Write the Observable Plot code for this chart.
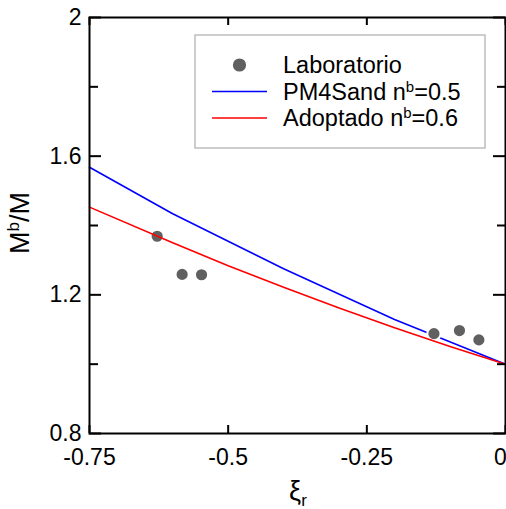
<!DOCTYPE html>
<html>
<head>
<meta charset="utf-8">
<script src="https://cdn.jsdelivr.net/npm/d3@7"></script>
<script src="https://cdn.jsdelivr.net/npm/@observablehq/plot@0.6"></script>
<style>
  html, body { margin: 0; padding: 0; background: white; }
  svg text { font-family: "Liberation Sans", Arial, sans-serif; }
</style>
</head>
<body>
<div id="chart"></div>
<script>
// Tick values
const xTicks = [-0.75, -0.5, -0.25, 0];
const yTicks = [0.8, 1.2, 1.6, 2];
const yMinor = [1.0, 1.4, 1.8];

// Laboratorio points
const labX = [-0.628, -0.583, -0.548, -0.129, -0.083, -0.048];
const labY = [1.369, 1.259, 1.258, 1.088, 1.097, 1.070];

// PM4Sand n^b=0.5 (blue)
const pmX = [-0.75, -0.6, -0.4, -0.2, 0];
const pmY = [1.568, 1.434, 1.275, 1.129, 1.0];

// Adoptado n^b=0.6 (red)
const adX = [-0.75, -0.6, -0.5, -0.4, -0.3, -0.2, -0.1, 0];
const adY = [1.453, 1.350, 1.284, 1.222, 1.162, 1.105, 1.051, 1.0];

const lab = labX.map((x, i) => ({x, y: labY[i]}));
const pm = pmX.map((x, i) => ({x, y: pmY[i]}));
const ad = adX.map((x, i) => ({x, y: adY[i]}));

const W = 506, H = 509;
const mL = 89, mR = 1, mT = 17, mB = 76;
const fw = W - mL - mR, fh = H - mT - mB;

const svg = Plot.plot({
  width: W, height: H,
  marginLeft: mL, marginRight: mR, marginTop: mT, marginBottom: mB,
  x: {domain: [-0.75, 0]},
  y: {domain: [0.8, 2]},
  style: {fontFamily: "Liberation Sans, Arial, sans-serif", fontSize: "23px", color: "black", background: "white"},
  marks: [
    Plot.line(pm, {x: "x", y: "y", stroke: "#0000ff", strokeWidth: 1.6}),
    Plot.dot(lab, {x: "x", y: "y", r: 6.6, fill: "#606060", stroke: "white", strokeWidth: 2}),
    Plot.line(ad, {x: "x", y: "y", stroke: "#ff0000", strokeWidth: 1.6}),
    // inward ticks
    Plot.tickX(xTicks, {x: d => d, insetTop: fh - 8, stroke: "black", strokeWidth: 2}),
    Plot.tickX(xTicks, {x: d => d, insetBottom: fh - 8, stroke: "black", strokeWidth: 2}),
    Plot.tickY(yTicks, {y: d => d, insetRight: fw - 12, stroke: "black", strokeWidth: 2}),
    Plot.tickY(yMinor, {y: d => d, insetRight: fw - 9, stroke: "black", strokeWidth: 2}),
    Plot.tickY(yTicks, {y: d => d, insetLeft: fw - 12, stroke: "black", strokeWidth: 2}),
    Plot.tickY(yMinor, {y: d => d, insetLeft: fw - 8, stroke: "black", strokeWidth: 2}),
    Plot.frame({stroke: "black", strokeWidth: 2}),
    Plot.axisX({ticks: xTicks.slice(0, -1), tickSize: 0, tickPadding: 15, tickFormat: d => String(d), label: null, fontSize: 23}),
    Plot.axisX({ticks: xTicks.slice(-1), tickSize: 0, tickPadding: 15, tickFormat: d => String(d), label: null, fontSize: 23, dx: -5}),
    Plot.axisY({ticks: yTicks, tickSize: 0, tickPadding: 8, tickFormat: d => String(d), label: null, fontSize: 23})
  ]
});

const s = d3.select(svg);
const ff = "Liberation Sans, Arial, sans-serif";

// Y axis title M^b/M
const yt = s.append("text")
  .attr("transform", "translate(29,223) rotate(-90)")
  .attr("text-anchor", "middle")
  .attr("font-family", ff).attr("font-size", 27).attr("fill", "black");
yt.append("tspan").text("M");
yt.append("tspan").attr("font-size", 17).attr("dy", -10).text("b");
yt.append("tspan").attr("dy", 10).text("/M");

// X axis title ξ_r
const xt = s.append("text")
  .attr("x", 298).attr("y", 500)
  .attr("text-anchor", "middle")
  .attr("font-family", ff).attr("font-size", 27).attr("fill", "black");
xt.append("tspan").text("ξ");
xt.append("tspan").attr("font-size", 17).attr("dy", 6).text("r");

// Legend
const lg = s.append("g");
lg.append("rect").attr("x", 195).attr("y", 35).attr("width", 290).attr("height", 113)
  .attr("fill", "white").attr("stroke", "#bdbdbd").attr("stroke-width", 1.5);
lg.append("circle").attr("cx", 239.5).attr("cy", 65).attr("r", 6.6).attr("fill", "#606060");
lg.append("line").attr("x1", 212).attr("x2", 267).attr("y1", 91.5).attr("y2", 91.5)
  .attr("stroke", "#0000ff").attr("stroke-width", 1.6);
lg.append("line").attr("x1", 212).attr("x2", 267).attr("y1", 118).attr("y2", 118)
  .attr("stroke", "#ff0000").attr("stroke-width", 1.6);
function legText(y, main, sup, rest) {
  const t = lg.append("text").attr("x", 283).attr("y", y).attr("dy", "0.35em")
    .attr("text-anchor", "start")
    .attr("font-family", ff).attr("font-size", 23.5).attr("fill", "black");
  t.append("tspan").text(main);
  if (sup) {
    t.append("tspan").attr("font-size", 15).attr("dy", -8).text(sup);
    t.append("tspan").attr("dy", 8).text(rest);
  }
}
legText(65, "Laboratorio");
legText(91.5, "PM4Sand n", "b", "=0.5");
legText(118, "Adoptado n", "b", "=0.6");

document.getElementById("chart").appendChild(svg);
</script>
</body>
</html>
